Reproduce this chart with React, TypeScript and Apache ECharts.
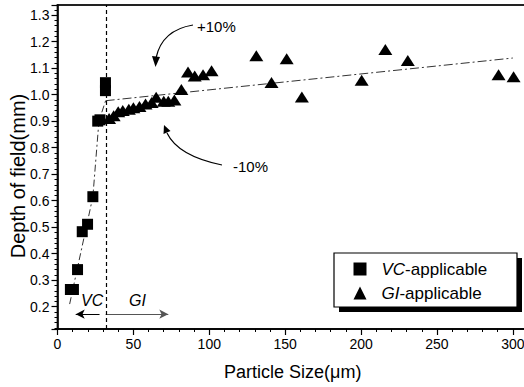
import { useEffect, useRef } from "react";
import * as echarts from "echarts";

const vcSize = [8.5, 10.5, 13.2, 16.3, 19.8, 23.3, 26.5, 28, 31.6, 31.6];
const vcDepth = [0.265, 0.265, 0.34, 0.483, 0.511, 0.615, 0.9, 0.905, 1.045, 1.015];
const giSize = [34, 37, 40, 43, 47, 50, 54, 58, 62, 65, 70, 73, 77, 81.6, 86, 90.4, 95.9, 101.5, 131, 141, 151, 161, 200.4, 216, 230.8, 290.6, 300.5];
const giDepth = [0.91, 0.92, 0.935, 0.94, 0.945, 0.95, 0.955, 0.965, 0.97, 0.99, 0.975, 0.975, 0.98, 1.019, 1.085, 1.07, 1.075, 1.09, 1.147, 1.046, 1.135, 0.991, 1.054, 1.17, 1.129, 1.075, 1.067];
const vcFitX = [8, 23.3, 27.3, 31.7];
const vcFitY = [0.21, 0.615, 0.9, 0.977];
const giFitX = [31.7, 300];
const giFitY = [0.977, 1.138];
const boundaryX = 32;
const arrowY = 0.172;
const vcArrow = [27.7, 12];
const giArrow = [31.7, 73];

const FONT = "Arial, 'Liberation Sans', sans-serif";
const INK = "#000";

const zip = (xs: number[], ys: number[]) => xs.map((x, i) => [x, ys[i]]);

export default function App() {
  const ref = useRef<HTMLDivElement>(null);
  useEffect(() => {
    if (!ref.current) return;
    const chart = echarts.init(ref.current, undefined, { renderer: "svg" });
    chart.setOption({
      animation: false,
      backgroundColor: "#fff",
      textStyle: { fontFamily: FONT },
      grid: {
        left: 57.5,
        right: -4,
        top: 5,
        bottom: 58,
        show: true,
        borderColor: "#222",
        borderWidth: 1.8,
        containLabel: false,
        outerBoundsMode: "none",
      },
      legend: {
        orient: "vertical",
        left: 353.5,
        top: 260.5,
        padding: 0,
        itemGap: 7,
        itemWidth: 13,
        itemHeight: 13,
        z: 10,
        data: ["VC-applicable", "GI-applicable"],
        formatter: (name: string) =>
          name === "VC-applicable" ? "{g|}{i|VC}{n|-applicable}" : "{g|}{i|GI}{n|-applicable}",
        textStyle: {
          color: INK,
          fontSize: 17,
          lineHeight: 17,
          fontFamily: FONT,
          rich: {
            g: { width: 10 },
            i: { fontStyle: "italic", fontSize: 17, color: INK, fontFamily: FONT },
            n: { fontSize: 17, color: INK, fontFamily: FONT },
          },
        },
      },
      xAxis: {
        type: "value",
        min: 0,
        max: 310,
        interval: 50,
        name: "Particle Size(\u03bcm)",
        nameLocation: "middle",
        nameGap: 34,
        nameMoveOverlap: false,
        nameTextStyle: { fontSize: 18, color: INK, fontFamily: FONT },
        axisLine: { show: true, onZero: false, lineStyle: { color: INK, width: 1.5 } },
        axisTick: { show: true, inside: false, length: 6, lineStyle: { color: INK, width: 1.2 } },
        minorTick: { show: true, splitNumber: 5, length: 3, lineStyle: { color: INK, width: 1 } },
        axisLabel: { fontSize: 14, color: INK, margin: 8, showMaxLabel: false, fontFamily: FONT },
        splitLine: { show: false },
      },
      yAxis: {
        type: "value",
        min: 0.116,
        max: 1.338,
        splitNumber: 12,
        name: "Depth of field(mm)",
        nameLocation: "middle",
        nameGap: 30,
        nameMoveOverlap: false,
        nameTextStyle: { fontSize: 20, color: INK, fontFamily: FONT, padding: [0, 18, 0, 0] },
        axisLine: { show: true, onZero: false, lineStyle: { color: INK, width: 1.5 } },
        axisTick: { show: true, inside: false, length: 6, lineStyle: { color: INK, width: 1.2 } },
        minorTick: { show: true, splitNumber: 5, length: 3, lineStyle: { color: INK, width: 1 } },
        axisLabel: {
          fontSize: 14,
          color: INK,
          margin: 8,
          showMinLabel: false,
          showMaxLabel: false,
          fontFamily: FONT,
          formatter: (v: number) => v.toFixed(1),
        },
        splitLine: { show: false },
      },
      series: [
        {
          name: "VC fit",
          type: "line",
          data: zip(vcFitX, vcFitY),
          symbol: "none",
          lineStyle: { color: "#333", width: 1, type: [7, 3, 2, 3] },
          silent: true,
          z: 1,
        },
        {
          name: "GI fit",
          type: "line",
          data: zip(giFitX, giFitY),
          symbol: "none",
          lineStyle: { color: "#333", width: 1, type: [9, 3, 2, 3] },
          silent: true,
          z: 1,
          markLine: {
            silent: true,
            symbol: ["none", "arrow"],
            symbolSize: [7, 9],
            label: { show: false },
            lineStyle: { color: INK, width: 1, type: "solid" },
            data: [
              [{ coord: [vcArrow[0], arrowY] }, { coord: [vcArrow[1], arrowY] }],
              [{ coord: [giArrow[0], arrowY], lineStyle: { color: "#555" } }, { coord: [giArrow[1], arrowY] }],
            ],
          },
        },
        {
          name: "VC-applicable",
          type: "scatter",
          data: zip(vcSize, vcDepth),
          symbol: "rect",
          symbolSize: 11,
          itemStyle: { color: INK, opacity: 1 },
          z: 3,
          markLine: {
            silent: true,
            symbol: ["none", "none"],
            label: { show: false },
            lineStyle: { color: INK, width: 1.2, type: [4, 3] },
            data: [{ xAxis: boundaryX }],
          },
        },
        {
          name: "GI-applicable",
          type: "scatter",
          data: zip(giSize, giDepth),
          symbol: "triangle",
          symbolSize: [14, 11],
          itemStyle: { color: INK, opacity: 1 },
          z: 3,
        },
      ],
      graphic: [
        { type: "rect", z: 5, shape: { x: 339, y: 258, width: 183, height: 54 }, style: { fill: INK } },
        { type: "rect", z: 6, shape: { x: 334, y: 253, width: 183, height: 54 }, style: { fill: "#fff", stroke: INK, lineWidth: 1.2 } },
        { type: "text", x: 81, y: 292, style: { text: "VC", fontSize: 16, fontStyle: "italic", fill: INK, fontFamily: FONT } },
        { type: "text", x: 129, y: 292, style: { text: "GI", fontSize: 16, fontStyle: "italic", fill: INK, fontFamily: FONT } },
        { type: "text", x: 197, y: 19, style: { text: "+10%", fontSize: 15, fill: INK, fontFamily: FONT } },
        { type: "text", x: 233, y: 159, style: { text: "-10%", fontSize: 15, fill: INK, fontFamily: FONT } },
        {
          type: "bezierCurve",
          shape: { x1: 193, y1: 25, cpx1: 162, cpy1: 30, x2: 156, y2: 58 },
          style: { stroke: INK, lineWidth: 1.2, fill: "none" },
        },
        { type: "polygon", shape: { points: [[152, 56], [160, 57], [155.5, 67]] }, style: { fill: INK } },
        {
          type: "bezierCurve",
          shape: { x1: 222, y1: 165, cpx1: 178, cpy1: 156, x2: 167, y2: 133 },
          style: { stroke: INK, lineWidth: 1.2, fill: "none" },
        },
        { type: "polygon", shape: { points: [[170.5, 131], [163.5, 134], [164, 125]] }, style: { fill: INK } },
      ],
    });
    return () => chart.dispose();
  }, []);
  return <div ref={ref} style={{ width: 524, height: 387, position: "absolute", left: 0, top: 0 }} />;
}
